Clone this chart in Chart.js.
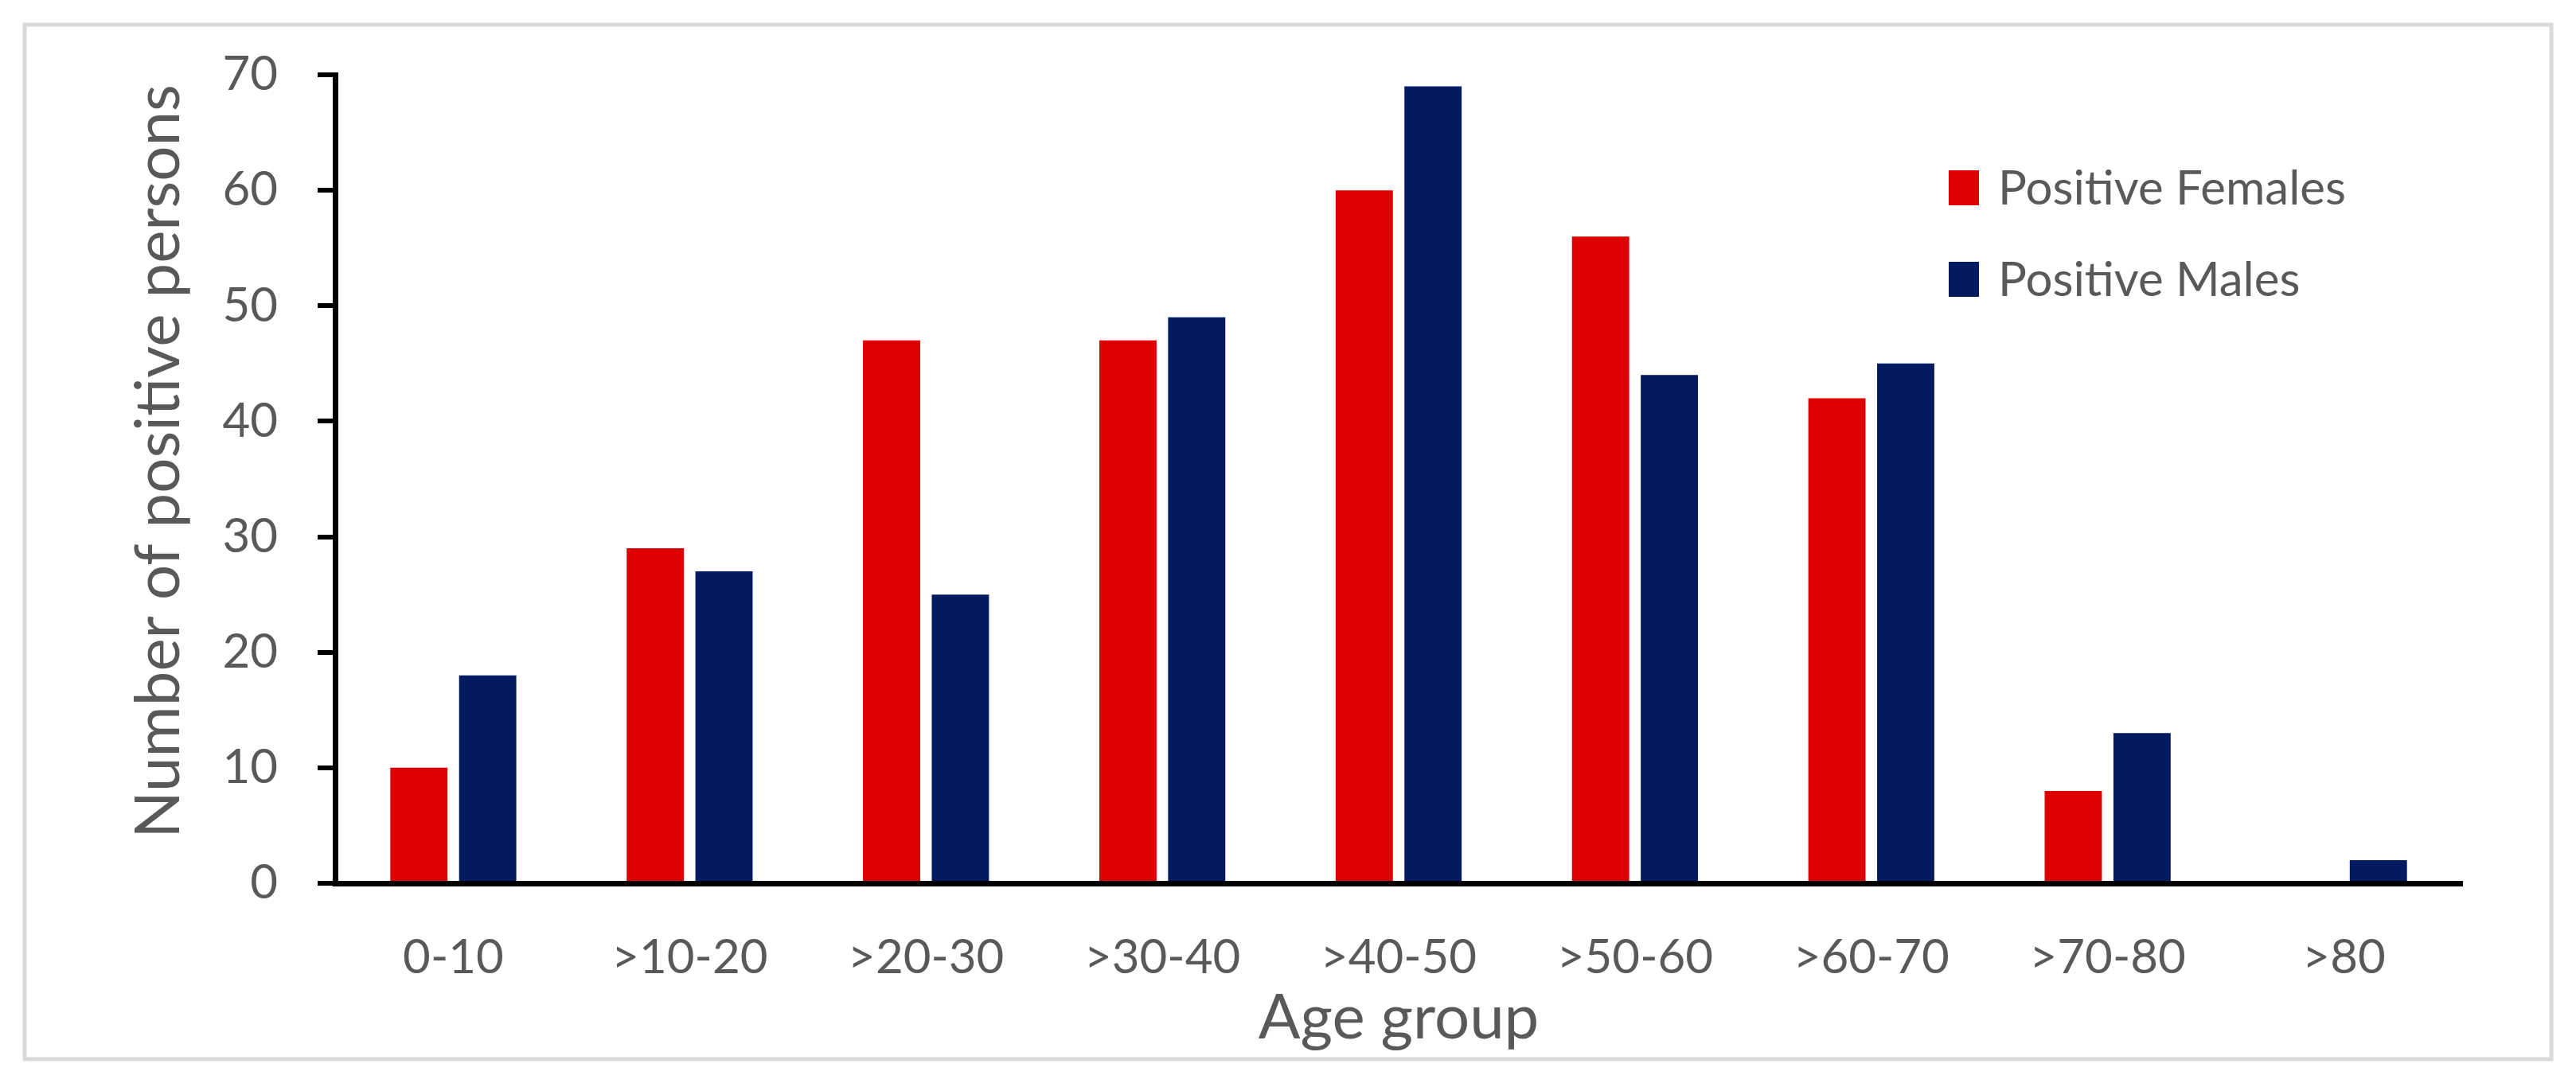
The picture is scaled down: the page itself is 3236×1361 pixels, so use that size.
<!DOCTYPE html>
<html>
<head>
<meta charset="utf-8">
<script src="https://cdn.jsdelivr.net/npm/chart.js@4/dist/chart.umd.min.js"></script>
<style>
  html, body { margin: 0; padding: 0; background: #ffffff; }
  #wrap { position: relative; width: 3236px; height: 1361px; }
  canvas { display: block; }
</style>
</head>
<body>
<div id="wrap"><canvas id="c" width="3236" height="1361"></canvas></div>
<script>
// ---- data ----
const categories = ['0-10', '>10-20', '>20-30', '>30-40', '>40-50', '>50-60', '>60-70', '>70-80', '>80'];
const positiveFemales = [10, 29, 47, 47, 60, 56, 42, 8, 0];
const positiveMales = [18, 27, 25, 49, 69, 44, 45, 13, 2];
const seriesLabels = ['Positive Females', 'Positive Males'];
const yAxisTitle = 'Number of positive persons';
const xAxisTitle = 'Age group';
const yMin = 0, yMax = 70, yStep = 10;

// ---- styles ----
const FONT = 'Lato';
const TEXT = '#595959';
const RED = '#DE0000';
const NAVY = '#021A5F';

const framePlugin = {
  id: 'frame',
  beforeDraw(chart) {
    const ctx = chart.ctx;
    ctx.save();
    ctx.fillStyle = '#ffffff';
    ctx.fillRect(0, 0, chart.width, chart.height);
    ctx.strokeStyle = '#d9d9d9';
    ctx.lineWidth = 5;
    ctx.strokeRect(31, 31, 3174, 1300);
    ctx.restore();
  }
};

const yTitlePlugin = {
  id: 'yTitle',
  afterDraw(chart, args, opts) {
    const ctx = chart.ctx;
    ctx.save();
    ctx.translate(opts.x, opts.y);
    ctx.rotate(-Math.PI / 2);
    ctx.font = opts.fontSize + 'px ' + FONT;
    ctx.fillStyle = TEXT;
    ctx.textAlign = 'center';
    ctx.textBaseline = 'middle';
    ctx.fillText(opts.text, 0, 0);
    ctx.restore();
  }
};

const legendPlugin = {
  id: 'insideLegend',
  afterDraw(chart, args, opts) {
    const ctx = chart.ctx;
    ctx.save();
    ctx.font = opts.fontSize + 'px ' + FONT;
    ctx.textBaseline = 'middle';
    ctx.textAlign = 'left';
    chart.data.datasets.forEach((ds, i) => {
      const cy = opts.top + i * opts.rowGap;
      ctx.fillStyle = ds.backgroundColor;
      ctx.fillRect(opts.left, cy - opts.boxH / 2, opts.boxW, opts.boxH);
      ctx.fillStyle = TEXT;
      ctx.fillText(ds.label, opts.left + opts.boxW + opts.gap, cy + 2);
    });
    ctx.restore();
  }
};

new Chart(document.getElementById('c'), {
  type: 'bar',
  data: {
    labels: categories,
    datasets: [
      { label: seriesLabels[0], data: positiveFemales, backgroundColor: RED,
        categoryPercentage: 0.582, barPercentage: 0.832 },
      { label: seriesLabels[1], data: positiveMales, backgroundColor: NAVY,
        categoryPercentage: 0.582, barPercentage: 0.832 }
    ]
  },
  options: {
    responsive: false,
    devicePixelRatio: 1,
    animation: false,
    layout: { padding: { left: 0, top: 94, right: 143, bottom: 0 } },
    plugins: {
      legend: { display: false },
      tooltip: { enabled: false },
      insideLegend: { left: 2448, top: 236, rowGap: 115, boxW: 38, boxH: 44, gap: 24, fontSize: 60 },
      yTitle: { text: yAxisTitle, x: 200, y: 580, fontSize: 78 }
    },
    scales: {
      x: {
        grid: { display: false, drawTicks: false },
        border: { display: true, color: '#000000', width: 7 },
        ticks: { color: TEXT, font: { family: FONT, size: 60 }, padding: 58, maxRotation: 0 },
        title: { display: true, text: xAxisTitle, color: TEXT, font: { family: FONT, size: 78 },
                 padding: { top: 0, bottom: 34 } },
        afterFit(s) { s.height = 251; }
      },
      y: {
        min: yMin, max: yMax,
        ticks: { stepSize: yStep, color: TEXT, font: { family: FONT, size: 60 }, padding: 50 },
        grid: { drawOnChartArea: false, drawTicks: true, tickLength: 22, color: '#000000', lineWidth: 6 },
        border: { display: true, color: '#000000', width: 7 },
        title: { display: false },
        afterFit(s) { s.width = 421; }
      }
    }
  },
  plugins: [framePlugin, legendPlugin, yTitlePlugin]
});
</script>
</body>
</html>
